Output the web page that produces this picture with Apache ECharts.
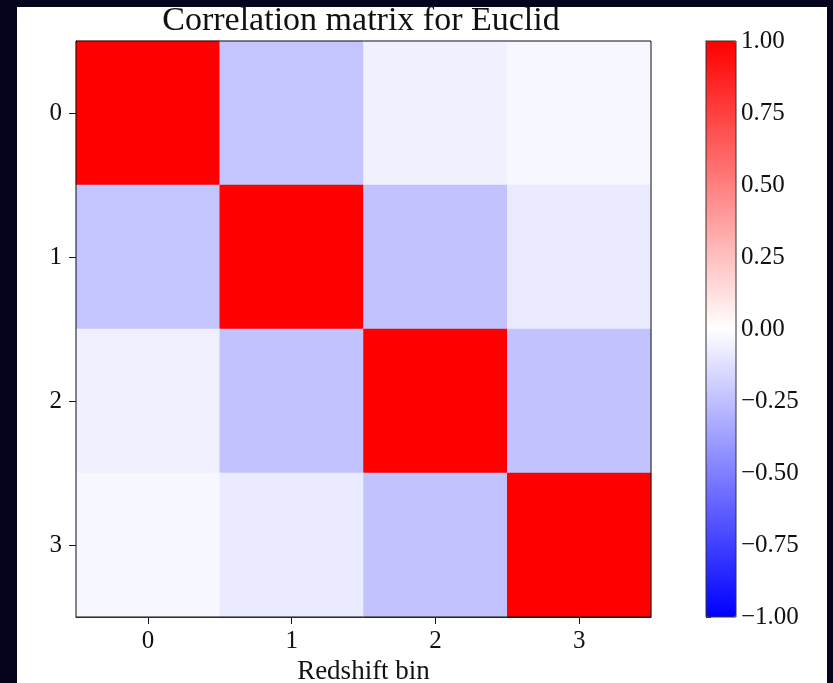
<!DOCTYPE html>
<html>
<head>
<meta charset="utf-8">
<script src="https://cdn.jsdelivr.net/npm/echarts@6/dist/echarts.min.js"></script>
<style>
html,body{margin:0;padding:0;background:#04041c;width:833px;height:683px;overflow:hidden;}
#panel{position:absolute;left:17px;top:7px;width:810px;height:676px;background:#ffffff;}
#chart{position:absolute;left:0;top:0;width:833px;height:683px;}
</style>
</head>
<body>
<div id="panel"></div>
<div id="chart"></div>
<script>
// Data
const bins = ['0', '1', '2', '3'];
const row0 = [1.00, -0.23, -0.06, -0.03];
const row1 = [-0.23, 1.00, -0.24, -0.08];
const row2 = [-0.06, -0.24, 1.00, -0.24];
const row3 = [-0.03, -0.08, -0.24, 1.00];
const rows = [row0, row1, row2, row3];
const colorbarMin = -1.0;
const colorbarMax = 1.0;
const colorbarStep = 0.25;
const titleText = 'Correlation matrix for Euclid';
const xName = 'Redshift bin';

const cells = [];
rows.forEach((r, yi) => r.forEach((v, xi) => cells.push([xi, yi, v])));

const FONT = '"Liberation Serif", "Times New Roman", serif';
const INK = '#111111';
const fmt = v => (v < 0 ? '\u2212' : '') + Math.abs(v).toFixed(2);

const chart = echarts.init(document.getElementById('chart'), null, {renderer: 'canvas'});
chart.setOption({
  backgroundColor: 'transparent',
  animation: false,
  title: {
    text: titleText, left: 361, top: 4, textAlign: 'center', padding: 0,
    textStyle: {fontFamily: FONT, fontSize: 34, fontWeight: 'normal', color: INK}
  },
  grid: [
    {left: 76, top: 41, width: 575, height: 576, outerBoundsMode: 'none', containLabel: false, show: true, borderColor: INK, borderWidth: 1, backgroundColor: 'transparent', z: 10},
    {left: 706, top: 41, width: 30, height: 576, outerBoundsMode: 'none', containLabel: false, show: true, borderColor: '#333', borderWidth: 1, backgroundColor: 'transparent', z: 10}
  ],
  xAxis: [
    {
      type: 'category', data: bins, gridIndex: 0, position: 'bottom',
      name: xName, nameLocation: 'middle', nameGap: 36,
      nameTextStyle: {fontFamily: FONT, fontSize: 27, color: INK},
      axisLine: {show: true, lineStyle: {color: INK, width: 1}},
      axisTick: {show: true, alignWithLabel: true, length: 7, lineStyle: {color: INK}},
      axisLabel: {fontFamily: FONT, fontSize: 25, color: INK, margin: 12},
      splitLine: {show: false}
    },
    {type: 'value', gridIndex: 1, min: 0, max: 1, show: false}
  ],
  yAxis: [
    {
      type: 'category', data: bins, gridIndex: 0, inverse: true, position: 'left',
      axisLine: {show: true, lineStyle: {color: INK, width: 1}},
      axisTick: {show: true, alignWithLabel: true, length: 7, lineStyle: {color: INK}},
      axisLabel: {fontFamily: FONT, fontSize: 25, color: INK, margin: 14},
      splitLine: {show: false}
    },
    {
      type: 'value', gridIndex: 1, position: 'right', min: colorbarMin, max: colorbarMax, interval: colorbarStep,
      axisLine: {show: true, lineStyle: {color: '#333', width: 1}},
      axisTick: {show: true, length: 5, lineStyle: {color: '#333'}},
      axisLabel: {fontFamily: FONT, fontSize: 25, color: INK, margin: 5, formatter: fmt},
      splitLine: {show: false}
    }
  ],
  visualMap: {
    type: 'continuous', seriesIndex: 0, min: colorbarMin, max: colorbarMax,
    calculable: false, orient: 'vertical', left: 706, top: 41, padding: 0,
    itemWidth: 30, itemHeight: 576, hoverLink: false, z: 4,
    inRange: {color: ['#0000ff', '#ffffff', '#ff0000']},
    text: null
  },
  series: [
    {
      type: 'heatmap', xAxisIndex: 0, yAxisIndex: 0, data: cells,
      itemStyle: {borderWidth: 0}, emphasis: {disabled: true}
    },
    {type: 'scatter', xAxisIndex: 1, yAxisIndex: 1, data: [], silent: true}
  ]
});
</script>
</body>
</html>
